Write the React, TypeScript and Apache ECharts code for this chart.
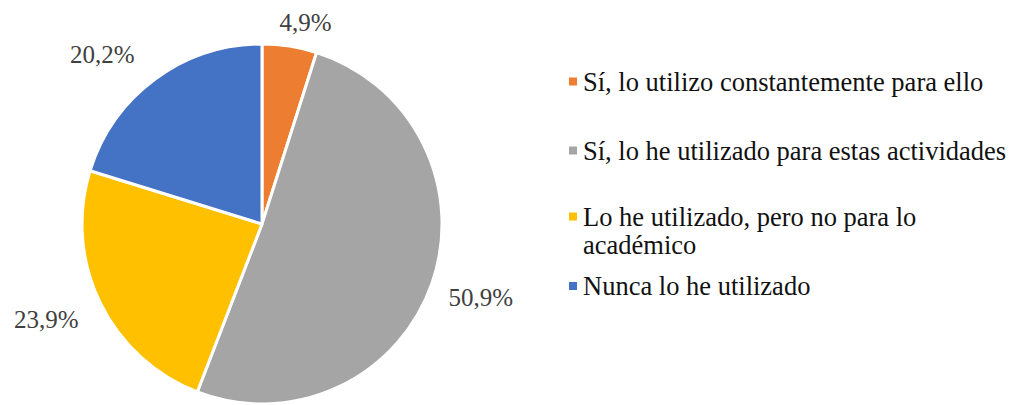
import React, { useEffect, useRef } from "react";
import * as echarts from "echarts";

const categories = [
  "Sí, lo utilizo constantemente para ello",
  "Sí, lo he utilizado para estas actividades",
  "Lo he utilizado, pero no para lo académico",
  "Nunca lo he utilizado",
];
const values = [4.9, 50.9, 23.9, 20.2];
const colors = ["#ED7D31", "#A5A5A5", "#FFC000", "#4472C4"];

// layout / style constants
const legendTops = [67.5, 136.5, 174.5, 272];
const labelOffsets = [
  [8, 0],
  [0, -3],
  [-7, -6],
  [-22, 17],
];
const CX = 262;
const CY = 224;
const R = 180;
const LABEL_R = 232;
const FONT = "Liberation Serif";

export default function App() {
  const ref = useRef<HTMLDivElement>(null);
  useEffect(() => {
    if (!ref.current) return;
    const chart = echarts.init(ref.current, null, { renderer: "svg" });
    const total = values.reduce((a, b) => a + b, 0);
    const midFrac = values.map((v, i) => {
      const before = values.slice(0, i).reduce((a, b) => a + b, 0);
      return (before + v / 2) / total;
    });
    const legends = categories.map((name, i) => ({
      data: [name],
      orient: "vertical" as const,
      left: 567,
      top: legendTops[i],
      padding: 0,
      icon: "rect",
      itemWidth: 10,
      itemHeight: 10,
      selectedMode: false,
      formatter: (n: string) =>
        n === categories[2] ? "\nLo he utilizado, pero no para lo\nacadémico" : n,
      textStyle: {
        fontFamily: FONT,
        fontSize: 26.5,
        lineHeight: 28,
        color: "#111111",
      },
    }));
    chart.setOption({
      animation: false,
      backgroundColor: "#ffffff",
      textStyle: { fontFamily: FONT },
      legend: legends,
      series: [
        {
          type: "pie",
          center: [CX, CY],
          radius: R,
          startAngle: 90,
          clockwise: true,
          emphasis: { disabled: true },
          itemStyle: { borderColor: "#ffffff", borderWidth: 3 },
          label: {
            show: true,
            position: "outside",
            fontFamily: FONT,
            fontSize: 25,
            color: "#404040",
            overflow: "none",
            width: 120,
            formatter: (p: any) => p.value.toFixed(1).replace(".", ",") + "%",
          },
          labelLine: { show: false },
          labelLayout: (params: any) => {
            const i = params.dataIndex;
            const a = midFrac[i] * Math.PI * 2;
            const x = CX + Math.sin(a) * LABEL_R + labelOffsets[i][0];
            let y = CY - Math.cos(a) * LABEL_R + labelOffsets[i][1];
            if (y < 22) y = 22;
            return { x, y, align: "center", verticalAlign: "middle" };
          },
          data: categories.map((name, i) => ({
            name,
            value: values[i],
            itemStyle: { color: colors[i] },
          })),
        },
      ],
    });
    return () => chart.dispose();
  }, []);
  return (
    <div
      ref={ref}
      style={{ position: "fixed", left: 0, top: 0, width: 1013, height: 405 }}
    />
  );
}
